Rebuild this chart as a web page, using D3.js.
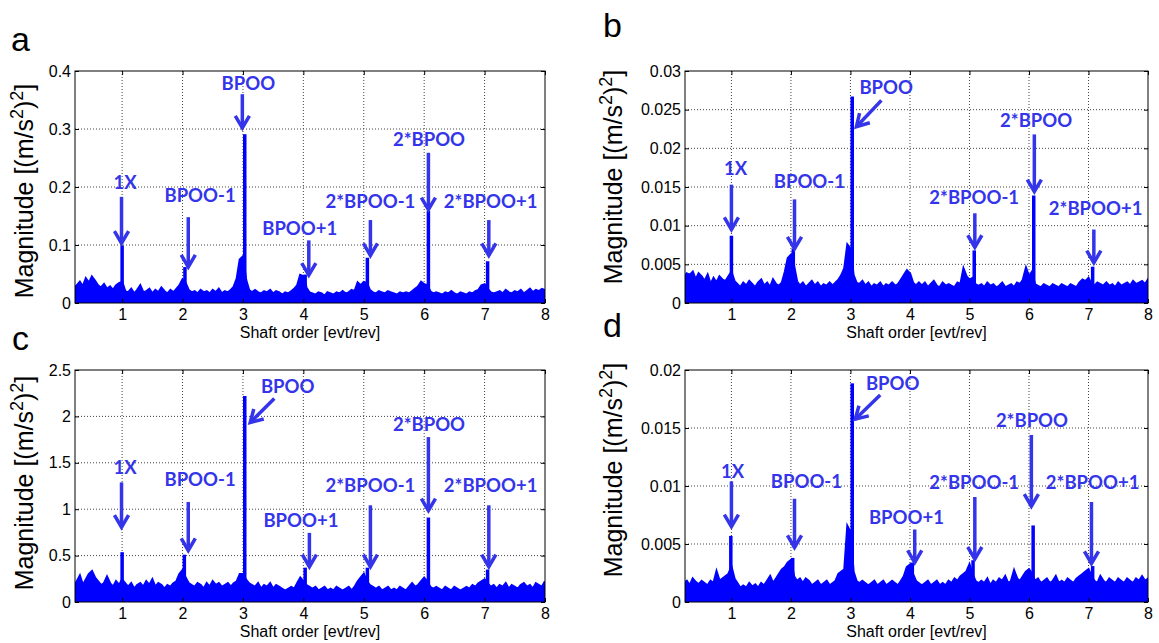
<!DOCTYPE html>
<html><head><meta charset="utf-8">
<script src="https://cdn.jsdelivr.net/npm/d3@7"></script>
<style>body{margin:0;background:#fff}</style></head>
<body>
<svg id="chart" width="1159" height="643"></svg>
<script>
// ---------- data ----------
const xTicks = [1, 2, 3, 4, 5, 6, 7, 8];
const xTickLabels = ["1", "2", "3", "4", "5", "6", "7", "8"];
// sampling grid of the noise-floor envelope (shaft order, step 0.05 from 0.20 to 8.00)
const orders = d3.range(0, 157).map(i => +(0.2 + i * 0.05).toFixed(2));

const yTicksA = [0, 0.1, 0.2, 0.3, 0.4];
const yLabelsA = ["0", "0.1", "0.2", "0.3", "0.4"];
const yTicksB = [0, 0.005, 0.01, 0.015, 0.02, 0.025, 0.03];
const yLabelsB = ["0", "0.005", "0.01", "0.015", "0.02", "0.025", "0.03"];
const yTicksC = [0, 0.5, 1, 1.5, 2, 2.5];
const yLabelsC = ["0", "0.5", "1", "1.5", "2", "2.5"];
const yTicksD = [0, 0.005, 0.01, 0.015, 0.02];
const yLabelsD = ["0", "0.005", "0.01", "0.015", "0.02"];

// upper envelope of the noise floor
const noiseA = [
0.025,0.030,0.036,0.028,0.042,0.034,0.045,0.038,0.030,0.026,
0.032,0.024,0.028,0.022,0.030,0.034,0.036,0.020,0.018,0.024,
0.016,0.022,0.030,0.018,0.020,0.024,0.016,0.022,0.018,0.026,
0.020,0.016,0.022,0.018,0.024,0.030,0.040,0.034,0.022,0.018,
0.020,0.016,0.022,0.018,0.020,0.016,0.022,0.018,0.024,0.016,
0.020,0.018,0.022,0.028,0.042,0.075,0.080,0.040,0.022,0.018,
0.022,0.018,0.016,0.020,0.018,0.022,0.016,0.020,0.018,0.014,
0.018,0.016,0.020,0.024,0.030,0.048,0.046,0.026,0.018,0.016,
0.014,0.018,0.016,0.012,0.018,0.016,0.014,0.018,0.016,0.020,
0.016,0.018,0.022,0.020,0.035,0.030,0.036,0.034,0.022,0.018,
0.016,0.020,0.018,0.016,0.020,0.018,0.016,0.014,0.018,0.016,
0.018,0.016,0.020,0.024,0.028,0.036,0.032,0.030,0.020,0.016,
0.018,0.016,0.014,0.018,0.016,0.020,0.016,0.014,0.018,0.016,
0.014,0.018,0.016,0.020,0.022,0.030,0.032,0.024,0.018,0.016,
0.018,0.020,0.016,0.022,0.018,0.016,0.020,0.018,0.022,0.016,
0.020,0.024,0.018,0.022,0.020,0.024,0.022];
const noiseB = [
0.0032,0.0038,0.0036,0.0040,0.0030,0.0038,0.0034,0.0028,0.0036,0.0024,
0.0032,0.0026,0.0034,0.0030,0.0028,0.0034,0.0040,0.0028,0.0024,0.0020,
0.0026,0.0022,0.0028,0.0024,0.0020,0.0026,0.0030,0.0022,0.0026,0.0020,
0.0030,0.0024,0.0022,0.0026,0.0040,0.0058,0.0062,0.0048,0.0028,0.0022,
0.0026,0.0020,0.0024,0.0028,0.0022,0.0026,0.0020,0.0024,0.0022,0.0026,
0.0022,0.0026,0.0030,0.0036,0.0045,0.0075,0.0070,0.0036,0.0026,0.0024,
0.0028,0.0022,0.0026,0.0020,0.0024,0.0022,0.0026,0.0020,0.0024,0.0022,
0.0026,0.0022,0.0024,0.0030,0.0036,0.0042,0.0038,0.0026,0.0022,0.0026,
0.0022,0.0026,0.0020,0.0024,0.0028,0.0022,0.0020,0.0026,0.0022,0.0024,
0.0022,0.0020,0.0026,0.0024,0.0044,0.0034,0.0030,0.0032,0.0024,0.0022,
0.0024,0.0020,0.0026,0.0022,0.0024,0.0020,0.0022,0.0026,0.0020,0.0022,
0.0024,0.0020,0.0026,0.0024,0.0030,0.0045,0.0034,0.0040,0.0024,0.0022,
0.0020,0.0024,0.0022,0.0020,0.0024,0.0022,0.0020,0.0024,0.0022,0.0020,
0.0024,0.0022,0.0020,0.0026,0.0030,0.0028,0.0032,0.0024,0.0022,0.0026,
0.0024,0.0022,0.0026,0.0022,0.0024,0.0020,0.0026,0.0022,0.0024,0.0026,
0.0022,0.0028,0.0024,0.0026,0.0028,0.0024,0.0030];
const noiseC = [
0.16,0.22,0.28,0.18,0.24,0.30,0.33,0.26,0.22,0.18,
0.20,0.27,0.20,0.16,0.22,0.18,0.24,0.20,0.16,0.20,
0.14,0.18,0.20,0.16,0.22,0.18,0.24,0.16,0.20,0.18,
0.14,0.18,0.16,0.20,0.22,0.30,0.34,0.26,0.20,0.18,
0.16,0.20,0.18,0.14,0.20,0.16,0.22,0.18,0.20,0.16,
0.18,0.20,0.16,0.20,0.22,0.30,0.30,0.24,0.20,0.18,
0.16,0.20,0.14,0.18,0.16,0.20,0.14,0.18,0.16,0.14,
0.12,0.14,0.16,0.14,0.20,0.26,0.22,0.18,0.16,0.14,
0.16,0.12,0.14,0.16,0.12,0.14,0.12,0.16,0.14,0.12,
0.14,0.16,0.12,0.16,0.22,0.26,0.30,0.22,0.18,0.16,
0.14,0.16,0.12,0.14,0.16,0.12,0.14,0.12,0.16,0.14,
0.12,0.16,0.20,0.16,0.18,0.22,0.26,0.22,0.16,0.14,
0.16,0.14,0.12,0.16,0.14,0.12,0.16,0.14,0.12,0.14,
0.16,0.14,0.18,0.16,0.20,0.22,0.24,0.20,0.16,0.18,
0.14,0.18,0.16,0.20,0.14,0.18,0.16,0.14,0.18,0.20,
0.16,0.18,0.14,0.20,0.18,0.16,0.22];
const noiseD = [
0.0016,0.0018,0.0014,0.0020,0.0017,0.0015,0.0018,0.0016,0.0014,0.0018,
0.0016,0.0026,0.0018,0.0020,0.0022,0.0024,0.0030,0.0020,0.0016,0.0012,
0.0014,0.0012,0.0016,0.0013,0.0015,0.0012,0.0016,0.0014,0.0018,0.0022,
0.0016,0.0020,0.0024,0.0028,0.0030,0.0034,0.0036,0.0022,0.0018,0.0020,
0.0016,0.0020,0.0018,0.0014,0.0016,0.0018,0.0014,0.0016,0.0018,0.0014,
0.0016,0.0018,0.0024,0.0026,0.0028,0.0065,0.0060,0.0026,0.0018,0.0016,
0.0018,0.0016,0.0014,0.0016,0.0018,0.0014,0.0016,0.0018,0.0014,0.0016,
0.0018,0.0016,0.0014,0.0018,0.0022,0.0030,0.0032,0.0024,0.0018,0.0016,
0.0014,0.0016,0.0018,0.0014,0.0016,0.0018,0.0014,0.0016,0.0014,0.0018,
0.0016,0.0020,0.0018,0.0022,0.0024,0.0026,0.0032,0.0024,0.0018,0.0016,
0.0018,0.0016,0.0020,0.0014,0.0018,0.0016,0.0020,0.0018,0.0022,0.0016,
0.0018,0.0027,0.0020,0.0018,0.0022,0.0026,0.0028,0.0024,0.0018,0.0020,
0.0016,0.0018,0.0020,0.0016,0.0018,0.0022,0.0016,0.0018,0.0016,0.0020,
0.0018,0.0016,0.0020,0.0022,0.0024,0.0026,0.0028,0.0022,0.0018,0.0016,
0.0022,0.0018,0.0016,0.0020,0.0018,0.0016,0.0020,0.0018,0.0016,0.0020,
0.0018,0.0016,0.0020,0.0018,0.0022,0.0018,0.0020];

// spectral peaks (shaft order, magnitude)
const peakXA = [1.0, 2.04, 3.03, 4.03, 5.06, 6.07, 7.05];
const peakYA = [0.099, 0.062, 0.291, 0.049, 0.078, 0.159, 0.072];
const peakXB = [1.0, 2.04, 3.03, 5.08, 6.08, 7.07];
const peakYB = [0.0087, 0.0070, 0.0267, 0.0068, 0.0139, 0.0047];
const peakXC = [1.0, 2.03, 3.03, 4.03, 5.06, 6.07, 7.05];
const peakYC = [0.537, 0.51, 2.22, 0.37, 0.37, 0.91, 0.35];
const peakXD = [0.99, 2.03, 3.03, 4.04, 5.06, 6.07, 7.07];
const peakYD = [0.0057, 0.0038, 0.01885, 0.0034, 0.0036, 0.0066, 0.0031];

// annotations: label, label anchor (x,y), arrow tail (x,y) and tip (x,y) in data units
const annA = [
 ["1X",       1.05, 0.197, 0.99, 0.183, 0.99, 0.103],
 ["BPOO-1",   2.29, 0.175, 2.095,0.148, 2.095,0.062],
 ["BPOO",     3.09, 0.367, 2.99, 0.360, 2.99, 0.302],
 ["BPOO+1",   3.94, 0.117, 4.09, 0.108, 4.09, 0.048],
 ["2*BPOO-1", 5.11, 0.164, 5.11, 0.143, 5.11, 0.082],
 ["2*BPOO",   6.08, 0.271, 6.07, 0.259, 6.07, 0.161],
 ["2*BPOO+1", 7.10, 0.164, 7.07, 0.143, 7.07, 0.082]];
const annB = [
 ["1X",       1.07, 0.0165, 1.0, 0.0153, 1.0, 0.0095],
 ["BPOO-1",   2.31, 0.0149, 2.06, 0.0134, 2.06, 0.0070],
 ["BPOO",     3.60, 0.0270, 3.52, 0.0262, 3.10, 0.0228],
 ["2*BPOO-1", 5.08, 0.0128, 5.09, 0.0116, 5.09, 0.0072],
 ["2*BPOO",   6.12, 0.0228, 6.09, 0.0218, 6.09, 0.0144],
 ["2*BPOO+1", 7.12, 0.0114, 7.09, 0.0095, 7.09, 0.0052]];
const annC = [
 ["1X",       1.05, 1.379, 0.99, 1.289, 0.99, 0.806],
 ["BPOO-1",   2.29, 1.246, 2.095,1.078, 2.095,0.555],
 ["BPOO",     3.74, 2.256, 3.52, 2.192, 3.12, 1.934],
 ["BPOO+1",   3.96, 0.806, 4.10, 0.745, 4.10, 0.380],
 ["2*BPOO-1", 5.11, 1.182, 5.11, 1.042, 5.11, 0.380],
 ["2*BPOO",   6.08, 1.848, 6.07, 1.777, 6.07, 0.985],
 ["2*BPOO+1", 7.10, 1.182, 7.07, 1.042, 7.07, 0.380]];
const annD = [
 ["1X",       1.02, 0.0107, 1.0, 0.0104, 1.0, 0.0065],
 ["BPOO-1",   2.26, 0.0098, 2.06, 0.0089, 2.06, 0.0047],
 ["BPOO",     3.71, 0.0183, 3.50, 0.01785, 3.08, 0.01576],
 ["BPOO+1",   3.94, 0.0067, 4.08, 0.00625, 4.08, 0.0034],
 ["2*BPOO-1", 5.08, 0.0097, 5.09, 0.00905, 5.09, 0.0037],
 ["2*BPOO",   6.05, 0.0151, 6.04, 0.0144, 6.04, 0.00825],
 ["2*BPOO+1", 7.07, 0.0097, 7.05, 0.00862, 7.05, 0.00332]];

// ---------- layout ----------
const panels = [
 {letter:"a", lx:11, ly:51, left:75, right:545, top:71, bottom:303, ylx:33, ylc:191, ymax:0.4, yt:yTicksA, yl:yLabelsA, noise:noiseA, px:peakXA, py:peakYA, ann:annA},
 {letter:"b", lx:603, ly:37, left:685, right:1148, top:71, bottom:303, ylx:622, ylc:177, ymax:0.03, yt:yTicksB, yl:yLabelsB, noise:noiseB, px:peakXB, py:peakYB, ann:annB},
 {letter:"c", lx:12, ly:350, left:75, right:545, top:370, bottom:602, ylx:33, ylc:483, ymax:2.5, yt:yTicksC, yl:yLabelsC, noise:noiseC, px:peakXC, py:peakYC, ann:annC},
 {letter:"d", lx:603, ly:337, left:685, right:1148, top:370, bottom:602, ylx:622, ylc:470, ymax:0.02, yt:yTicksD, yl:yLabelsD, noise:noiseD, px:peakXD, py:peakYD, ann:annD}];

const svg = d3.select("#chart");
const SIG = "#0000ff", ANN = "#3434ea";
const tickFont = "'Liberation Sans', Arial, sans-serif";

panels.forEach((p, k) => {
  const x = d3.scaleLinear().domain([0.22, 8]).range([p.left, p.right]);
  const y = d3.scaleLinear().domain([0, p.ymax]).range([p.bottom, p.top]);
  const g = svg.append("g");

  g.append("defs").append("clipPath").attr("id", "clip" + k)
    .append("rect").attr("x", p.left).attr("y", p.top - 2)
    .attr("width", p.right - p.left).attr("height", p.bottom - p.top + 2);

  // grid
  g.append("g").selectAll("line").data(xTicks.filter(t => t < 8)).join("line")
    .attr("x1", d => x(d)).attr("x2", d => x(d)).attr("y1", p.top).attr("y2", p.bottom)
    .attr("stroke", "#444").attr("stroke-width", 1).attr("stroke-dasharray", "1,2");
  g.append("g").selectAll("line").data(p.yt.filter(t => t > 0 && t < p.ymax)).join("line")
    .attr("y1", d => y(d)).attr("y2", d => y(d)).attr("x1", p.left).attr("x2", p.right)
    .attr("stroke", "#444").attr("stroke-width", 1).attr("stroke-dasharray", "1,2");

  // signal
  const area = d3.area().x((d, i) => x(orders[i])).y0(y(0)).y1(d => y(d));
  const sig = g.append("g").attr("clip-path", `url(#clip${k})`);
  sig.append("path").datum(p.noise).attr("d", area)
    .attr("fill", SIG).attr("stroke", SIG).attr("stroke-width", 2.5).attr("stroke-linejoin", "miter");
  sig.selectAll("line.stem").data(p.px).join("line").attr("class", "stem")
    .attr("x1", d => x(d)).attr("x2", d => x(d))
    .attr("y1", y(0)).attr("y2", (d, i) => y(p.py[i]))
    .attr("stroke", SIG).attr("stroke-width", 3.5);

  // axes
  const ax = g.append("g").attr("transform", `translate(0,${p.bottom})`)
    .call(d3.axisBottom(x).tickValues(xTicks).tickFormat((d, i) => xTickLabels[i])
      .tickSizeInner(-4).tickSizeOuter(0).tickPadding(6));
  const ay = g.append("g").attr("transform", `translate(${p.left},0)`)
    .call(d3.axisLeft(y).tickValues(p.yt).tickFormat((d, i) => p.yl[i])
      .tickSizeInner(-4).tickSizeOuter(0).tickPadding(4));
  const at = g.append("g").attr("transform", `translate(0,${p.top})`)
    .call(d3.axisTop(x).tickValues(xTicks).tickFormat("").tickSizeInner(-4).tickSizeOuter(0));
  const ar = g.append("g").attr("transform", `translate(${p.right},0)`)
    .call(d3.axisRight(y).tickValues(p.yt).tickFormat("").tickSizeInner(-4).tickSizeOuter(0));
  [ax, ay, at, ar].forEach(a => {
    a.attr("font-family", tickFont).attr("font-size", 16);
    a.select(".domain").remove();
    a.selectAll("line").attr("stroke", "#000");
    a.selectAll("text").attr("fill", "#000");
  });
  g.append("rect").attr("x", p.left).attr("y", p.top)
    .attr("width", p.right - p.left).attr("height", p.bottom - p.top)
    .attr("fill", "none").attr("stroke", "#000").attr("stroke-width", 1);

  // axis titles
  g.append("text").attr("x", (p.left + p.right) / 2).attr("y", p.bottom + 35)
    .attr("text-anchor", "middle").attr("font-family", tickFont).attr("font-size", 16)
    .text("Shaft order [evt/rev]");
  const yt = g.append("text").attr("transform", `translate(${p.ylx},${p.ylc}) rotate(-90)`)
    .attr("text-anchor", "middle").attr("font-family", tickFont).attr("font-size", 25);
  yt.append("tspan").text("Magnitude [(m/s");
  yt.append("tspan").attr("dy", -10).attr("font-size", 18).text("2");
  yt.append("tspan").attr("dy", 10).text(")");
  yt.append("tspan").attr("dy", -10).attr("font-size", 18).text("2");
  yt.append("tspan").attr("dy", 10).text("]");

  // panel letter
  g.append("text").attr("x", p.lx).attr("y", p.ly).attr("font-family", tickFont)
    .attr("font-size", 34).text(p.letter);

  // annotations
  const an = g.append("g");
  p.ann.forEach(a => {
    const [lab, tx, ty, x0, y0, x1, y1] = a;
    an.append("text").attr("x", x(tx)).attr("y", y(ty)).attr("text-anchor", "middle")
      .attr("font-family", "Lato, 'Open Sans', sans-serif").attr("font-weight", 700)
      .attr("font-size", 18.5).attr("fill", ANN).text(lab);
    const X0 = x(x0), Y0 = y(y0), X1 = x(x1), Y1 = y(y1);
    an.append("line").attr("x1", X0).attr("y1", Y0).attr("x2", X1).attr("y2", Y1)
      .attr("stroke", ANN).attr("stroke-width", 3.5);
    const ang = Math.atan2(Y1 - Y0, X1 - X0), L = 14, s = 0.53;
    const p1 = [X1 - L * Math.cos(ang - s), Y1 - L * Math.sin(ang - s)];
    const p2 = [X1 - L * Math.cos(ang + s), Y1 - L * Math.sin(ang + s)];
    an.append("path").attr("d", `M${p1}L${X1},${Y1}L${p2}`)
      .attr("fill", "none").attr("stroke", ANN).attr("stroke-width", 3.5)
      .attr("stroke-linejoin", "miter");
  });
});
</script>
</body></html>
